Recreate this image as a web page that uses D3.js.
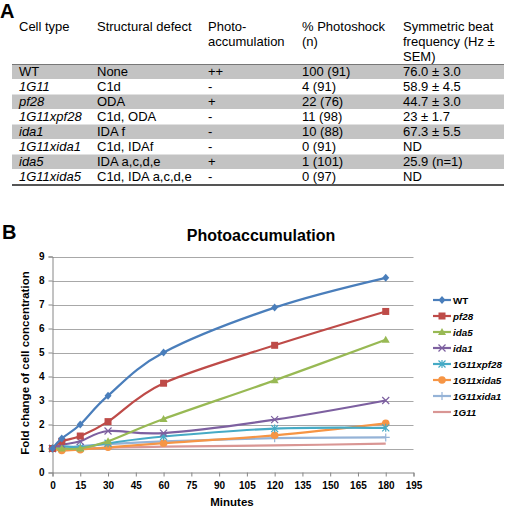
<!DOCTYPE html>
<html><head><meta charset="utf-8">
<script src="https://cdn.jsdelivr.net/npm/d3@7/dist/d3.min.js"></script>
<style>body{margin:0;background:#fff}svg{display:block;font-family:"Liberation Sans",Arial,sans-serif}</style>
</head><body>
<svg id="c" width="512" height="508"></svg>
<script>
// ---- Table data (panel A) ----
const tableHeaders = [["Cell type"],["Structural defect"],["Photo-","accumulation"],["% Photoshock","(n)"],["Symmetric beat","frequency (Hz \u00b1","SEM)"]];
const cellTypes = ["WT","1G11","pf28","1G11xpf28","ida1","1G11xida1","ida5","1G11xida5"];
const structuralDefects = ["None","C1d","ODA","C1d, ODA","IDA f","C1d, IDAf","IDA a,c,d,e","C1d, IDA a,c,d,e"];
const photoAccum = ["++","-","+","-","-","-","+","-"];
const photoshock = ["100 (91)","4 (91)","22 (76)","11 (98)","10 (88)","0 (91)","1 (101)","0 (97)"];
const beatFreq = ["76.0 \u00b1 3.0","58.9 \u00b1 4.5","44.7 \u00b1 3.0","23 \u00b1 1.7","67.3 \u00b1 5.5","ND","25.9 (n=1)","ND"];

// ---- Chart data (panel B) ----
const minutes = [0,5,15,30,60,120,180];
const seriesNames = ["WT","pf28","ida5","ida1","1G11xpf28","1G11xida5","1G11xida1","1G11"];
const WT        = [1.0,1.42,2.0,3.2,5.0,6.87,8.11];
const pf28      = [1.0,1.3,1.52,2.12,3.72,5.3,6.71];
const ida5      = [1.0,1.0,1.0,1.3,2.23,3.84,5.53];
const ida1      = [1.0,1.15,1.3,1.73,1.64,2.2,3.0];
const G11xpf28  = [1.0,1.1,1.05,1.22,1.5,1.83,1.86];
const G11xida5  = [1.0,0.92,0.95,1.05,1.22,1.55,2.05];
const G11xida1  = [1.0,1.02,1.1,1.18,1.3,1.43,1.46];
const G11       = [1.0,1.0,1.0,1.03,1.08,1.13,1.2];
const seriesValues = [WT,pf28,ida5,ida1,G11xpf28,G11xida5,G11xida1,G11];
const seriesColors = ["#4a7ebb","#be4b48","#98b954","#7d60a0","#46aac5","#f69545","#95b3d7","#d99694"];
const seriesMarkers = ["diamond","square","triangle","x","star","circle","plus","none"];
const xTicks = d3.range(0,196,15);
const yTicks = d3.range(0,10,1);

const svg = d3.select("#c");

// ---------- Panel A ----------
svg.append("text").attr("x",0).attr("y",18).attr("font-size",20).attr("font-weight","bold").text("A");
const colX = [19,97,208,302,403];
const tbl = svg.append("g").attr("font-size",13).attr("fill","#000");
tableHeaders.forEach((lines,ci)=>{
  lines.forEach((l,li)=>{
    tbl.append("text").attr("x",colX[ci]).attr("y",31+li*15).text(l);
  });
});
const rowY0 = 64.5, rowH = 15;
cellTypes.forEach((ct,i)=>{
  const y = rowY0 + i*rowH;
  if(i%2===0){
    tbl.append("rect").attr("x",12).attr("y",y).attr("width",492).attr("height",rowH-0.5).attr("fill","#c3c3c3");
  }
  const base = y+11.5;
  tbl.append("text").attr("x",colX[0]).attr("y",base).attr("font-style",ct==="WT"?"normal":"italic").text(ct);
  tbl.append("text").attr("x",colX[1]).attr("y",base).text(structuralDefects[i]);
  tbl.append("text").attr("x",colX[2]).attr("y",base).text(photoAccum[i]);
  tbl.append("text").attr("x",colX[3]).attr("y",base).text(photoshock[i]);
  tbl.append("text").attr("x",colX[4]).attr("y",base).text(beatFreq[i]);
});
tbl.append("line").attr("x1",12).attr("x2",504).attr("y1",rowY0).attr("y2",rowY0).attr("stroke","#777").attr("stroke-width",1);
tbl.append("line").attr("x1",12).attr("x2",504).attr("y1",rowY0+8*rowH+0.5).attr("y2",rowY0+8*rowH+0.5).attr("stroke","#555").attr("stroke-width",2);

// ---------- Panel B ----------
svg.append("text").attr("x",2).attr("y",239).attr("font-size",20).attr("font-weight","bold").text("B");
svg.append("text").attr("x",261).attr("y",241).attr("text-anchor","middle").attr("font-size",16).attr("font-weight","bold").text("Photoaccumulation");

const x = d3.scaleLinear().domain([0,195]).range([52.5,413.5]);
const y = d3.scaleLinear().domain([0,9]).range([472.5,256.5]);

// gridlines
svg.append("g").selectAll("line").data(yTicks.filter(d=>d>0)).join("line")
  .attr("x1",x(0)).attr("x2",x(195)).attr("y1",d=>Math.round(y(d))+0.5).attr("y2",d=>Math.round(y(d))+0.5)
  .attr("stroke","#a8a8a8").attr("stroke-width",1);

const yAxis = svg.append("g").attr("transform",`translate(${x(0)},0)`)
  .call(d3.axisLeft(y).tickValues(yTicks).tickSize(4).tickPadding(4).tickFormat(d3.format("d")));
const xAxis = svg.append("g").attr("transform",`translate(0,${y(0)})`)
  .call(d3.axisBottom(x).tickValues(xTicks).tickSize(4).tickPadding(5).tickFormat(d3.format("d")));
[yAxis,xAxis].forEach(a=>{
  a.selectAll("path,line").attr("stroke","#868686");
  a.selectAll("text").attr("font-size",10).attr("font-weight","bold").attr("fill","#000").attr("font-family","Liberation Sans, Arial, sans-serif");
});

svg.append("text").attr("transform","translate(29,363) rotate(-90)").attr("text-anchor","middle")
  .attr("font-size",11.5).attr("font-weight","bold").text("Fold change of cell concentration");
svg.append("text").attr("x",232).attr("y",506).attr("text-anchor","middle")
  .attr("font-size",11.5).attr("font-weight","bold").text("Minutes");

const line = d3.line().x((d,i)=>x(minutes[i])).y(d=>y(d)).curve(d3.curveCardinal.tension(0));

function marker(g, type, cx, cy, color){
  const s = 3.5;
  if(type==="diamond"){
    g.append("path").attr("d",`M${cx},${cy-s-0.5}L${cx+s},${cy}L${cx},${cy+s+0.5}L${cx-s},${cy}Z`).attr("fill",color);
  } else if(type==="square"){
    g.append("rect").attr("x",cx-3.5).attr("y",cy-3.5).attr("width",7).attr("height",7).attr("fill",color);
  } else if(type==="triangle"){
    g.append("path").attr("d",`M${cx},${cy-4}L${cx+4},${cy+3}L${cx-4},${cy+3}Z`).attr("fill",color);
  } else if(type==="circle"){
    g.append("circle").attr("cx",cx).attr("cy",cy).attr("r",3.8).attr("fill",color);
  } else if(type==="x"){
    g.append("path").attr("d",`M${cx-s},${cy-s}L${cx+s},${cy+s}M${cx-s},${cy+s}L${cx+s},${cy-s}`).attr("stroke",color).attr("stroke-width",1.2);
  } else if(type==="star"){
    g.append("path").attr("d",`M${cx-s},${cy-s}L${cx+s},${cy+s}M${cx-s},${cy+s}L${cx+s},${cy-s}M${cx},${cy-s-0.5}L${cx},${cy+s+0.5}`).attr("stroke",color).attr("stroke-width",1.2);
  } else if(type==="plus"){
    g.append("path").attr("d",`M${cx-s-0.5},${cy}L${cx+s+0.5},${cy}M${cx},${cy-s-0.5}L${cx},${cy+s+0.5}`).attr("stroke",color).attr("stroke-width",1.2);
  }
}

const plot = svg.append("g");
// draw in reverse order so WT is on top
for(let k=seriesNames.length-1;k>=0;k--){
  const vals = seriesValues[k], col = seriesColors[k];
  const g = plot.append("g");
  g.append("path").attr("d",line(vals)).attr("fill","none").attr("stroke",col).attr("stroke-width",2.2);
  vals.forEach((v,i)=>marker(g, seriesMarkers[k], x(minutes[i]), y(v), col));
}

// legend
const leg = svg.append("g");
seriesNames.forEach((n,i)=>{
  const ly = 300 + i*16;
  leg.append("line").attr("x1",433).attr("x2",451).attr("y1",ly).attr("y2",ly).attr("stroke",seriesColors[i]).attr("stroke-width",2.2);
  marker(leg, seriesMarkers[i], 442, ly, seriesColors[i]);
  leg.append("text").attr("x",453).attr("y",ly+3.5).attr("font-size",9.8).attr("font-weight","bold")
    .attr("font-style",n==="WT"?"normal":"italic").text(n);
});
</script>
</body></html>
